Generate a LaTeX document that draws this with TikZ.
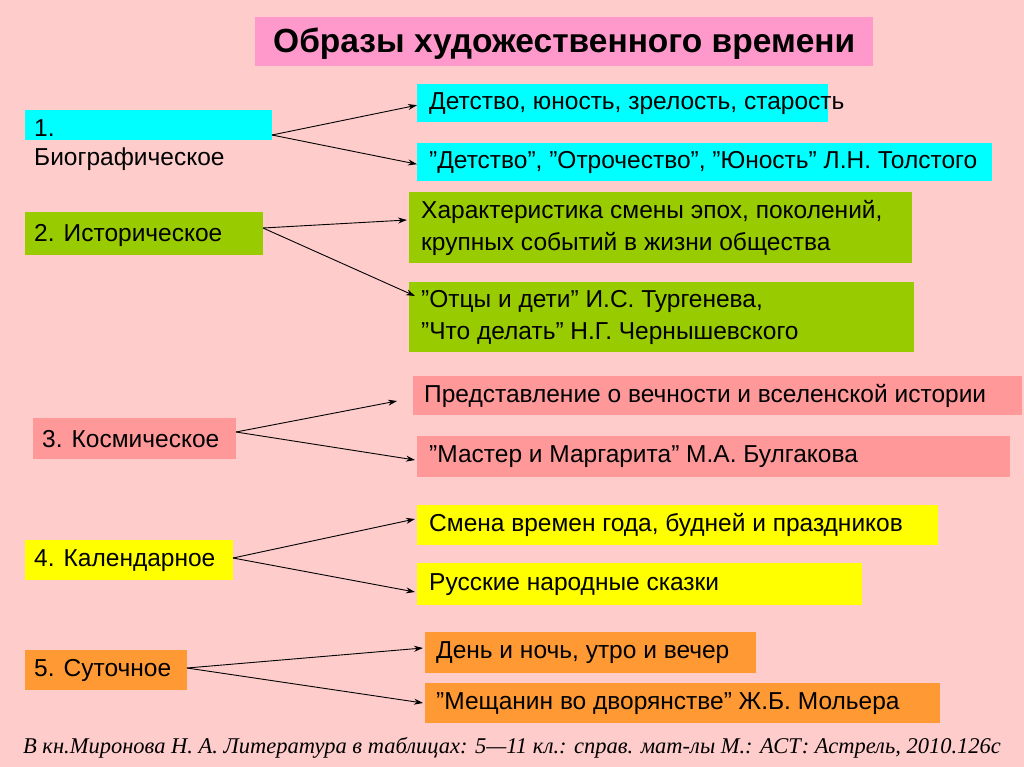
\documentclass[tikz,border=0pt]{standalone}
\usepackage{fontspec}
\setmainfont{Liberation Sans}
\newfontfamily\serifit{Liberation Serif}
\usetikzlibrary{arrows.meta}
\definecolor{bg}{HTML}{FFCCCC}
\definecolor{ttl}{HTML}{FF99CC}
\definecolor{cy}{HTML}{00FFFF}
\definecolor{gr}{HTML}{99CC00}
\definecolor{sa}{HTML}{FF9999}
\definecolor{ye}{HTML}{FFFF00}
\definecolor{or}{HTML}{FF9933}
\newcommand{\q}{\symbol{34}}
\tikzset{
 bx/.style={draw=none, inner sep=0pt, anchor=north west},
 tx/.style={anchor=west, inner sep=0pt, font=\fontsize{24.5}{32}\selectfont, align=left},
 ar/.style={-{Stealth[length=9pt,width=6pt]}, line width=0.9pt}
}
\newcommand{\bxx}[6]{% name, color, x1,y1,x2,y2
 \node[bx, fill=#2, minimum width={#5-#3}, minimum height={#6-#4}] (#1) at (#3,#4) {};}
\begin{document}
\begin{tikzpicture}[x=1pt,y=-1pt]
\fill[bg] (0,0) rectangle (1024,767);
\useasboundingbox (0,0) rectangle (1024,767);
\bxx{title}{ttl}{255}{17}{873}{66}
\node[anchor=center, font=\bfseries\fontsize{33.5}{36}\selectfont] at ([yshift=-2pt]title.center) {Образы художественного времени};
% left
\bxx{l1}{cy}{25}{110}{272}{140}
\node[tx, anchor=north west] (l1t) at (34,119) {1.\\[-3pt]Биографическое};
\bxx{l2}{gr}{25}{212}{263}{255}
\node[tx] at ([xshift=9pt,yshift=-2pt]l2.west) {2. Историческое};
\bxx{l3}{sa}{33}{418}{236}{459}
\node[tx] at ([xshift=9pt]l3.west) {3. Космическое};
\bxx{l4}{ye}{25}{540}{233}{580}
\node[tx] at ([xshift=9pt]l4.west) {4. Календарное};
\bxx{l5}{or}{25}{650}{187}{690}
\node[tx] at ([xshift=9pt]l5.west) {5. Суточное};
% right
\bxx{a1}{cy}{417}{84}{828}{122}
\node[tx] at ([xshift=12pt]a1.west) {Детство, юность, зрелость, старость};
\bxx{a2}{cy}{417}{143}{992}{181}
\node[tx] at ([xshift=12pt]a2.west) {\q Детство\q, \q Отрочество\q, \q Юность\q{} Л.Н. Толстого};
\bxx{b1}{gr}{409}{192}{912}{263}
\node[tx] at ([xshift=12pt]b1.west) {Характеристика смены эпох, поколений,\\ крупных событий в жизни общества};
\bxx{b2}{gr}{409}{282}{914}{352}
\node[tx] at ([xshift=12pt]b2.west) {\q Отцы и дети\q{} И.С. Тургенева,\\\q Что делать\q{} Н.Г. Чернышевского};
\bxx{c1}{sa}{413}{376}{1022}{415}
\node[tx] at ([xshift=11pt]c1.west) {Представление о вечности и вселенской истории};
\bxx{c2}{sa}{417}{436}{1010}{477}
\node[tx] at ([xshift=12pt]c2.west) {\q Мастер и Маргарита\q{} М.А. Булгакова};
\bxx{d1}{ye}{417}{505}{938}{545}
\node[tx] at ([xshift=12pt]d1.west) {Смена времен года, будней и праздников};
\bxx{d2}{ye}{417}{563}{862}{605}
\node[tx] at ([xshift=12pt]d2.west) {Русские народные сказки};
\bxx{e1}{or}{425}{632}{756}{673}
\node[tx] at ([xshift=11pt]e1.west) {День и ночь, утро и вечер};
\bxx{e2}{or}{425}{683}{940}{723}
\node[tx] at ([xshift=11pt]e2.west) {\q Мещанин во дворянстве\q{} Ж.Б. Мольера};
% arrows
\coordinate (s1) at (272,135);
\draw[ar] (s1) -- ([yshift=-2pt]a1.west);
\draw[ar] (s1) -- ([yshift=-2pt]a2.west);
\coordinate (s2) at (263,228);
\draw[ar] (s2) -- (407,220);
\draw[ar] (s2) -- (415,296);
\coordinate (s3) at (236,432);
\draw[ar] (s3) -- (397,401);
\draw[ar] (s3) -- (415,460);
\coordinate (s4) at (233,558);
\draw[ar] (s4) -- (415,519);
\draw[ar] (s4) -- (415,592);
\coordinate (s5) at (187,668);
\draw[ar] (s5) -- (423,648);
\draw[ar] (s5) -- (423,703);
\node[anchor=center, inner sep=0pt, font=\serifit\itshape\fontsize{22.5}{24}\selectfont] (foot) at (512,748) {В кн.Миронова Н. А. Литература в таблицах: 5—11 кл.: справ. мат-лы М.: АСТ: Астрель, 2010.126с};
\end{tikzpicture}
\end{document}
